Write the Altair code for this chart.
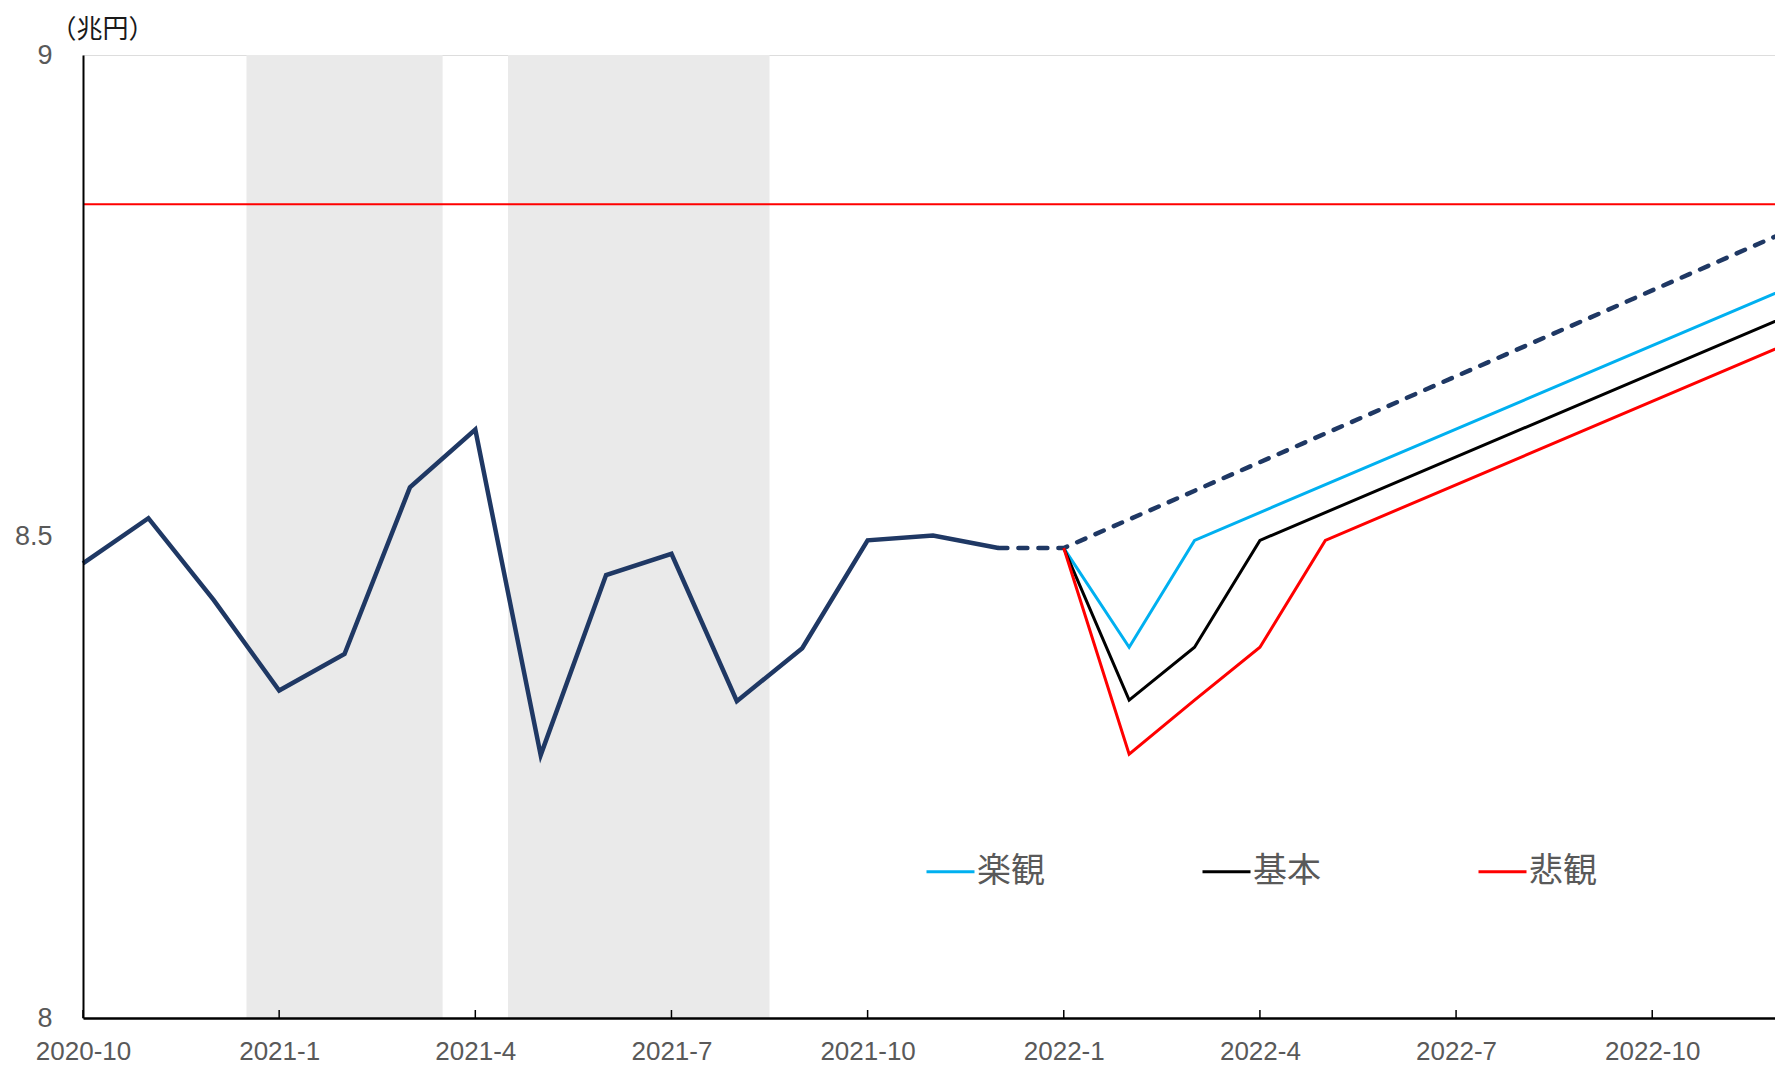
import altair as alt
import pandas as pd

# ---- data ----
tick_months = [0, 3, 6, 9, 12, 15, 18, 21, 24]
tick_labels = ["2020-10", "2021-1", "2021-4", "2021-7", "2021-10",
               "2022-1", "2022-4", "2022-7", "2022-10"]

actual_months = list(range(15))  # 2020-10 .. 2021-12
actual_values = [8.472, 8.519, 8.434, 8.340, 8.378, 8.551, 8.611, 8.273,
                 8.460, 8.482, 8.329, 8.384, 8.496, 8.501, 8.488]

dashed_months = [14, 15, 26]
dashed_values = [8.488, 8.488, 8.815]

opt_months = [15, 16, 17, 26]
opt_values = [8.488, 8.385, 8.496, 8.756]
base_months = [15, 16, 17, 18, 26]
base_values = [8.488, 8.330, 8.385, 8.496, 8.727]
pess_months = [15, 16, 17, 18, 19, 26]
pess_values = [8.488, 8.274, 8.330, 8.385, 8.496, 8.698]

scen_names = ["楽観", "基本", "悲観"]
scen_colors = ["#00B0F0", "#000000", "#FF0000"]

band_start = [2.5, 6.5]
band_end = [5.5, 10.5]
band_low = [8, 8]
band_high = [9, 9]

ref_level = [8.845]

y_ticks = [8, 8.5, 9]

W, H = 1692, 963
X_RANGE = 1700
NAVY = "#1F3864"
LABEL_GRAY = "#595959"
NUM_FONT = "Liberation Sans"
CJK_FONT = "Noto Sans CJK JP"

# ---- tables ----
actual_df = pd.DataFrame({"m": actual_months, "v": actual_values})
dashed_df = pd.DataFrame({"m": dashed_months, "v": dashed_values})
scen_df = pd.concat([
    pd.DataFrame({"m": opt_months, "v": opt_values, "s": scen_names[0]}),
    pd.DataFrame({"m": base_months, "v": base_values, "s": scen_names[1]}),
    pd.DataFrame({"m": pess_months, "v": pess_values, "s": scen_names[2]}),
])
band_df = pd.DataFrame({"m": band_start, "m2": band_end, "v": band_low, "v2": band_high})
ref_df = pd.DataFrame({"v": ref_level})
tick_df = pd.DataFrame({"m": tick_months})

label_expr = "[" + ",".join(f"'{t}'" for t in tick_labels) + "][round(datum.value/3)]"

x_enc = alt.X(
    "m:Q",
    scale=alt.Scale(domain=[0, 26], range=[0, X_RANGE], nice=False, zero=False),
    axis=alt.Axis(values=tick_months, labelExpr=label_expr, ticks=False, tickSize=0,
                  domainColor="black", domainWidth=2.5, grid=False,
                  labelFont=NUM_FONT, labelFontSize=26, labelColor=LABEL_GRAY,
                  labelPadding=20, labelFlush=False, labelOverlap=False,
                  title=None, zindex=1),
)
y_enc = alt.Y(
    "v:Q",
    scale=alt.Scale(domain=[8, 9], nice=False, zero=False),
    axis=alt.Axis(values=y_ticks, format=".1~f", ticks=False, tickSize=0,
                  domainColor="black", domainWidth=2, grid=False,
                  labelFont=NUM_FONT, labelFontSize=27, labelColor=LABEL_GRAY,
                  labelPadding=31, labelFlush=False, labelOverlap=False,
                  title="（兆円）", titleAngle=0, titleAlign="left",
                  titleBaseline="middle", titleX=-33, titleY=-26,
                  titleFont=CJK_FONT, titleFontSize=26, titleFontWeight="normal",
                  titleColor="#1a1a1a", zindex=1),
)

bands = alt.Chart(band_df).mark_rect(color="#EAEAEA").encode(
    x=x_enc, x2="m2:Q", y=y_enc, y2="v2:Q")

ref_rule = alt.Chart(ref_df).mark_rule(color="#FF0000", strokeWidth=2).encode(
    y=y_enc, x=alt.value(0), x2=alt.value(X_RANGE))

actual_line = alt.Chart(actual_df).mark_line(color=NAVY, strokeWidth=4.5).encode(
    x=x_enc, y=y_enc)

dashed_line = alt.Chart(dashed_df).mark_line(
    color=NAVY, strokeWidth=4.5, strokeDash=[9, 11], strokeCap="round").encode(
    x=x_enc, y=y_enc)

scen_lines = alt.Chart(scen_df).mark_line(strokeWidth=3).encode(
    x=x_enc, y=y_enc,
    color=alt.Color("s:N",
                    scale=alt.Scale(domain=scen_names, range=scen_colors),
                    legend=alt.Legend(title=None, orient="none", legendX=842, legendY=791,
                                      direction="horizontal", symbolType="stroke",
                                      symbolSize=2304, symbolStrokeWidth=3,
                                      labelFont=CJK_FONT, labelFontSize=34,
                                      labelColor=LABEL_GRAY, labelOffset=1,
                                      columnPadding=151)),
    detail="s:N",
)

ticks = alt.Chart(tick_df).mark_rule(color="black", strokeWidth=1.5).encode(
    x=x_enc, y=alt.value(H), y2=alt.value(H - 8))

chart = alt.layer(bands, ref_rule, actual_line, dashed_line, scen_lines, ticks).properties(
    width=W, height=H,
    autosize=alt.AutoSizeParams(type="none"),
    padding={"left": 75, "top": 47, "right": 0, "bottom": 47},
).configure_view(stroke=None).configure(background="white")

chart.save("out.html", embed_options={"renderer": "svg", "actions": False})
